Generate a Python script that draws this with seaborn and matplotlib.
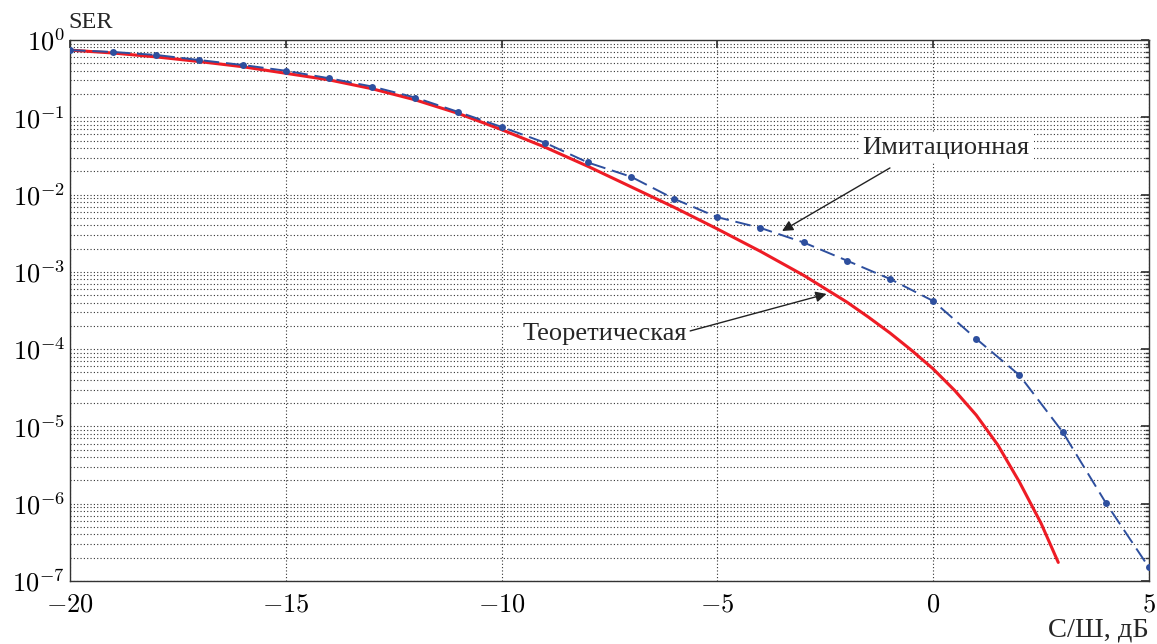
import numpy as np
import pandas as pd
import matplotlib
matplotlib.use("Agg")
import matplotlib.pyplot as plt
import matplotlib.ticker as mticker
import seaborn as sns

# --- data ---
snr_sim = [-20, -19, -18, -17, -16, -15, -14, -13, -12, -11, -10, -9, -8, -7,
           -6, -5, -4, -3, -2, -1, 0, 1, 2, 3, 4, 5]
ser_sim = [0.74, 0.70, 0.64, 0.55, 0.475, 0.40, 0.32, 0.25, 0.18, 0.117, 0.075,
           0.047, 0.026, 0.017, 0.0088, 0.0051, 0.0037, 0.0024, 0.0014, 0.00081,
           0.00042, 0.000136, 4.6e-5, 8.5e-6, 1.03e-6, 1.5e-7]

snr_theory = [-20, -19, -18, -17, -16, -15, -14, -13, -12, -11, -10, -9, -8, -7,
              -6, -5, -4, -3, -2, -1.5, -1, -0.5, 0, 0.5, 1, 1.5, 2, 2.5, 2.9]
ser_theory = [0.74, 0.678, 0.604, 0.526, 0.451, 0.371, 0.305, 0.234, 0.168,
              0.112, 0.0692, 0.0412, 0.0232, 0.0126, 0.00684, 0.00359, 0.00184,
              0.000902, 0.000407, 0.00026, 0.000162, 9.66e-5, 5.56e-5, 2.92e-5,
              1.40e-5, 5.75e-6, 1.91e-6, 5.6e-7, 1.74e-7]

label_sim = "Имитационная"
label_theory = "Теоретическая"
xlabel = "С/Ш, дБ"
ylabel = "SER"

sns.set_theme(style="white")
plt.rcParams["font.family"] = ["Liberation Serif", "DejaVu Serif"]
plt.rcParams["mathtext.fontset"] = "cm"

fig = plt.figure(figsize=(11.57, 6.44), dpi=100)
ax = fig.add_axes([0.0605, 0.0978, 0.9325, 0.8401])

df_sim = pd.DataFrame({"snr": snr_sim, "ser": ser_sim})
df_th = pd.DataFrame({"snr": snr_theory, "ser": ser_theory})

sns.lineplot(data=df_th, x="snr", y="ser", ax=ax, color="#ee1c25", lw=2.2,
             zorder=3)
sns.lineplot(data=df_sim, x="snr", y="ser", ax=ax, color="#2e4f9e", lw=1.4,
             linestyle=(0, (8, 3.5)), marker="o", markersize=5.0,
             markeredgewidth=0, zorder=4)

ax.set_yscale("log")
ax.set_xlim(-20, 5)
ax.set_ylim(1e-7, 1)
ax.set_xlabel("")
ax.set_ylabel("")
ax.xaxis.label.set_visible(False)
ax.yaxis.label.set_visible(False)

ax.xaxis.set_major_locator(mticker.MultipleLocator(5))
ax.xaxis.set_major_formatter(mticker.FuncFormatter(lambda v, p: r"$%d$" % v if v >= 0 else r"$-%d$" % (-v)))
ax.yaxis.set_major_locator(mticker.LogLocator(base=10, numticks=20))
ax.yaxis.set_minor_locator(mticker.LogLocator(base=10, subs=np.arange(2, 10), numticks=20))
ax.yaxis.set_minor_formatter(mticker.NullFormatter())
ax.yaxis.set_major_formatter(mticker.FuncFormatter(lambda v, p: r"$10^{%d}$" % round(np.log10(v))))

ax.grid(True, which="major", axis="both", color="#333333", linestyle=(0, (1, 2)), lw=0.8)
ax.grid(True, which="minor", axis="y", color="#333333", linestyle=(0, (1, 2)), lw=0.8)

for s in ax.spines.values():
    s.set_visible(True)
    s.set_color("#333333")
    s.set_linewidth(1.0)

ax.tick_params(axis="both", which="both", direction="in", top=True, right=True,
               colors="#333333", labelcolor="black", labelsize=19)
ax.tick_params(which="major", length=6)
ax.tick_params(which="minor", length=3)
ax.tick_params(axis="x", pad=10)

fig.text(0.0595, 0.9565, ylabel, fontsize=17.5, ha="left", va="baseline")
fig.text(0.993, 0.011, xlabel, fontsize=20.5, ha="right", va="baseline")

box = dict(boxstyle="square,pad=0.15", fc="white", ec="none")
arrow = dict(arrowstyle="-|>", color="#222222", lw=1.0, shrinkA=0, shrinkB=0,
             mutation_scale=16)

ax.text(0.30, 0.040, label_sim, fontsize=19, ha="center", va="center",
        bbox=box, zorder=5)
ax.annotate("", xy=(-3.50, 3.38e-3), xytext=(-1.0, 0.0221), arrowprops=arrow,
            zorder=5)

ax.text(-7.60, 1.58e-4, label_theory, fontsize=19, ha="center", va="center",
        bbox=box, zorder=5)
ax.annotate("", xy=(-2.47, 5.18e-4), xytext=(-5.63, 1.72e-4), arrowprops=arrow,
            zorder=5)

fig.savefig("out.png", dpi=100)
